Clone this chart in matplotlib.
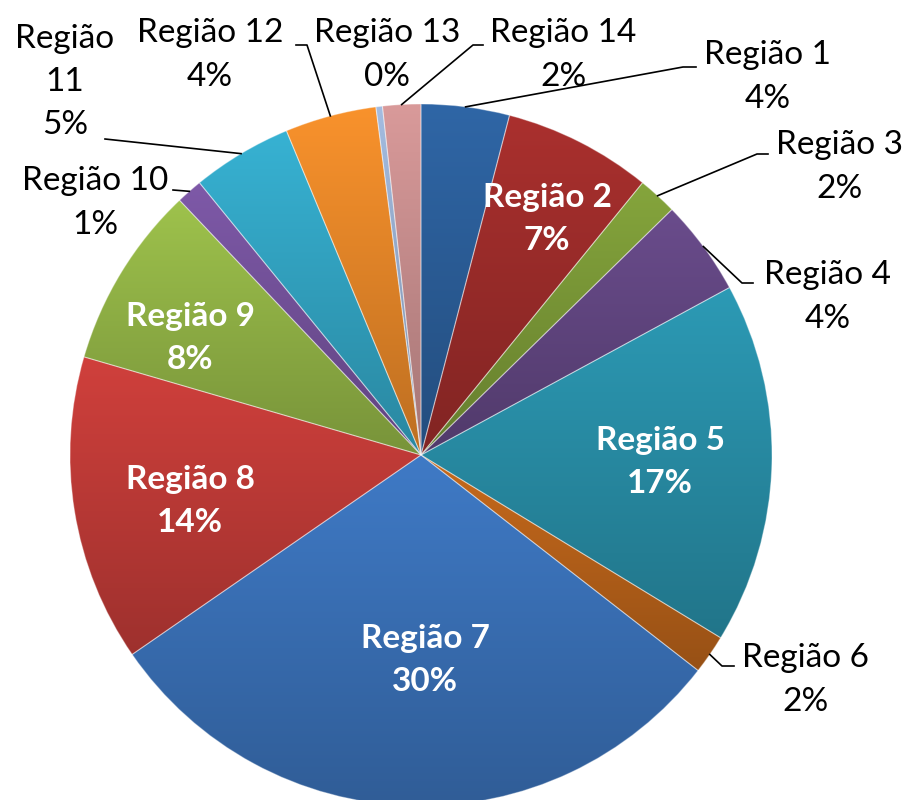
import numpy as np
import matplotlib
matplotlib.use("Agg")
import matplotlib.pyplot as plt
from matplotlib.colors import to_rgb

# values (percent of total)
regioes = ["Região 1", "Região 2", "Região 3", "Região 4", "Região 5", "Região 6", "Região 7",
           "Região 8", "Região 9", "Região 10", "Região 11", "Região 12", "Região 13", "Região 14"]
valores = [4.05, 6.8, 1.8, 4.4, 16.6, 1.8, 29.8, 14.1, 8.4, 1.2, 4.6, 4.2, 0.3, 1.75]
cores = ["#2F66A6", "#AA302E", "#85A53C", "#6A4C8C", "#2C9AB5", "#C76A1C", "#3F7AC6",
         "#D0403C", "#9EC24C", "#7E59A8", "#37B2D3", "#F9922C", "#A4BCE0", "#D99A9A"]

W, H = 911, 800
CX, CY, R = 421, 455, 351   # pie centre / radius in image pixels (y down)

# label layout in image pixels: (x, y, inside?)
pos_rotulo = {
    0: (768, 77, False), 1: (547, 219, True), 2: (840, 167, False), 3: (828, 297, False),
    4: (660, 462, True), 5: (806, 680, False), 6: (425, 660, True), 7: (190, 501, True),
    8: (190, 338, True), 9: (95, 203, False), 10: (65, 82, False), 11: (210, 55, False),
    12: (387, 55, False), 13: (563, 55, False),
}
# leader line points after the slice edge (image pixels)
guias = {
    0: [(683, 67), (696, 67)], 2: [(757, 154), (768, 154)], 3: [(742, 283), (753, 283)],
    5: [(722, 666), (734, 666)], 9: [(173, 190)], 10: [(105, 139)],
    11: [(307, 45), (296, 45)], 13: [(473, 45), (483, 45)],
}

fig = plt.figure(figsize=(W / 100, H / 100), dpi=100)
ax = fig.add_axes([0, 0, 1, 1])

def fy(y):
    return H - y

wedges, _ = ax.pie(valores, colors=cores, startangle=90, counterclock=False,
                   radius=R, center=(CX, fy(CY)),
                   wedgeprops=dict(linewidth=0.8, edgecolor=(1, 1, 1, 0.35)))

# vertical gradient inside every slice, light at its top, darker at its bottom
for w, c in zip(wedges, cores):
    v = w.get_path().vertices
    x0, x1 = v[:, 0].min(), v[:, 0].max()
    y0, y1 = v[:, 1].min(), v[:, 1].max()
    topo = np.array(to_rgb(c))
    base = topo * 0.76
    t = np.linspace(0, 1, 256)[:, None, None]
    img = topo * (1 - t) + base * t
    im = ax.imshow(img, extent=(x0, x1, y0, y1), origin="upper", aspect="auto",
                   zorder=0.5, interpolation="bilinear")
    im.set_clip_path(w)
    w.set_facecolor("none")

total = sum(valores)
fonte = ["Lato", "DejaVu Sans"]
for i, w in enumerate(wedges):
    pct = round(valores[i] / total * 100)
    nome = regioes[i]
    if i == 10:
        nome = "Região\n11"
    x, y, dentro = pos_rotulo[i]
    if dentro:
        ax.text(x, fy(y), f"{nome}\n{pct}%", ha="center", va="center", color="white",
                fontsize=24, fontweight="bold", family=fonte, linespacing=1.55, zorder=5)
    else:
        ax.text(x, fy(y), f"{nome}\n{pct}%", ha="center", va="center", color="black",
                fontsize=24, family=fonte, linespacing=1.55, zorder=5)
    if i in guias:
        ang = np.deg2rad((w.theta1 + w.theta2) / 2)
        xs = [CX + R * np.cos(ang)] + [p[0] for p in guias[i]]
        ys = [fy(CY) + R * np.sin(ang)] + [fy(p[1]) for p in guias[i]]
        ax.plot(xs, ys, color="black", linewidth=1.2, zorder=4)

ax.set_xlim(0, W)
ax.set_ylim(0, H)
ax.axis("off")
fig.savefig("out.png", dpi=100)
